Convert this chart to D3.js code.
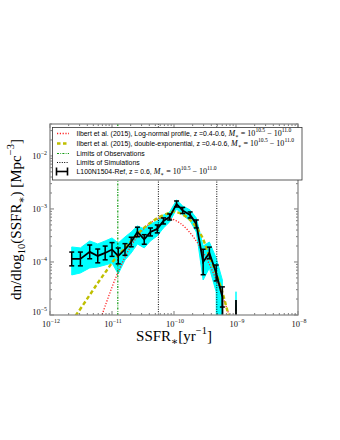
<!DOCTYPE html>
<html><head><meta charset="utf-8">
<script src="https://cdn.jsdelivr.net/npm/d3@7/dist/d3.min.js"></script>
<style>body{margin:0;background:#fff}</style>
</head><body><svg id="c" width="340" height="440"></svg>
<script>
// ---- data ----
const ssfr = [2.24e-12, 3.09e-12, 4.37e-12, 5.89e-12, 7.76e-12, 1.0e-11, 1.26e-11, 1.62e-11, 2.04e-11, 2.57e-11, 3.31e-11, 4.17e-11, 5.37e-11, 6.76e-11, 8.51e-11, 1.10e-10, 1.38e-10, 1.82e-10, 2.29e-10, 2.95e-10, 3.72e-10, 4.79e-10, 6.03e-10, 7.76e-10, 1.0e-9, 1.26e-9];
const phi = [1.14e-4, 1.14e-4, 1.55e-4, 1.30e-4, 1.48e-4, 1.72e-4, 1.30e-4, 1.72e-4, 2.38e-4, 3.68e-4, 2.66e-4, 3.68e-4, 4.20e-4, 5.94e-4, 7.06e-4, 1.24e-3, 9.37e-4, 7.70e-4, 5.21e-4, 1.0e-4, 1.48e-4, 6.20e-5, 2.19e-5, 0, 1.92e-5, 0];
const errDex = [0.13, 0.13, 0.13, 0.13, 0.13, 0.13, 0.15, 0.11, 0.09, 0.09, 0.09, 0.075, 0.075, 0.057, 0.057, 0.057, 0.057, 0.057, 0.075, 0.24, 0.11, 0.15, 0.19, 0, 0, 0];
const bandHi = [1.92e-4, 1.84e-4, 2.49e-4, 2.19e-4, 2.49e-4, 2.84e-4, 2.28e-4, 2.96e-4, 3.68e-4, 4.78e-4, 4.20e-4, 5.21e-4, 5.94e-4, 7.70e-4, 8.77e-4, 1.48e-3, 1.14e-3, 9.57e-4, 6.76e-4, 2.0e-4, 2.38e-4, 1.19e-4, 4.57e-5, 0, 2.75e-5, 0];
const bandLo = [5.69e-5, 6.20e-5, 7.71e-5, 8.05e-5, 8.77e-5, 9.57e-5, 5.94e-5, 1.09e-4, 1.48e-4, 2.19e-4, 1.84e-4, 2.49e-4, 3.10e-4, 4.38e-4, 5.69e-4, 1.0e-3, 7.70e-4, 5.94e-4, 3.68e-4, 4.57e-5, 7.71e-5, 2.72e-5, 0, 0, 0, 0];

const lnSsfr = [5.01e-12, 7.94e-12, 1.26e-11, 2.0e-11, 3.16e-11, 5.01e-11, 7.94e-11, 1.26e-10, 2.0e-10, 3.16e-10, 5.01e-10, 7.94e-10, 1.12e-9];
const lnPhi = [3.2e-6, 1.6e-5, 6.5e-5, 1.95e-4, 4.07e-4, 6.17e-4, 6.76e-4, 5.37e-4, 3.09e-4, 1.32e-4, 4.07e-5, 9.1e-6, 2.4e-6];

const deSsfr = [1.91e-12, 2.63e-12, 4.17e-12, 6.03e-12, 8.32e-12, 1.12e-11, 1.74e-11, 2.63e-11, 4.07e-11, 5.89e-11, 8.13e-11, 9.77e-11, 1.41e-10, 2.04e-10, 2.82e-10, 3.55e-10, 4.57e-10, 5.89e-10, 7.08e-10, 8.32e-10];
const dePhi = [6.3e-6, 1.0e-5, 2.19e-5, 4.17e-5, 7.08e-5, 1.15e-4, 2.0e-4, 3.47e-4, 5.37e-4, 7.08e-4, 8.32e-4, 8.91e-4, 7.76e-4, 5.37e-4, 3.02e-4, 1.48e-4, 7.08e-5, 2.95e-5, 1.35e-5, 6.3e-6];

const obsLimits = [1.24e-11];
const simLimits = [5.6e-11, 4.9e-10];

const xTickVals = [1e-12, 1e-11, 1e-10, 1e-9, 1e-8];
const xTickExp = ["\u221212", "\u221211", "\u221210", "\u22129", "\u22128"];
const yTickVals = [1e-5, 1e-4, 1e-3, 1e-2];
const yTickExp = ["\u22125", "\u22124", "\u22123", "\u22122"];

const legendText = [
  "Ilbert et al. (2015), Log-normal profile, z =0.4-0.6, ",
  "Ilbert et al. (2015), double-exponential, z =0.4-0.6, ",
  "Limits of Observations",
  "Limits of Simulations",
  "L100N1504-Ref, z = 0.6, "
];
const legendMath = [true, true, false, false, true];

// ---- layout ----
const L = 50, R = 298, T = 124, B = 315;
const svg = d3.select("#c");
const x = d3.scaleLog().domain([1e-12, 1e-8]).range([L, R]);
const y = d3.scaleLog().domain([1e-5, 0.04]).range([B, T]);
const FLOOR = 1e-30;
const fl = v => (v > 0 ? v : FLOOR);

svg.append("defs").append("clipPath").attr("id", "clip")
  .append("rect").attr("x", L).attr("y", T).attr("width", R - L).attr("height", B - T);
const plot = svg.append("g").attr("clip-path", "url(#clip)");

const pts = ssfr.map((s, i) => ({ s, p: phi[i], e: errDex[i], hi: bandHi[i], lo: bandLo[i] }));

// band
plot.append("path").datum(pts)
  .attr("d", d3.area().x(d => x(d.s)).y0(d => y(fl(d.lo))).y1(d => y(fl(d.hi))))
  .attr("fill", "#00ffff").attr("stroke", "#00ffff").attr("stroke-width", 1);

// model curves
const lnData = lnSsfr.map((s, i) => ({ s, p: lnPhi[i] }));
const deData = deSsfr.map((s, i) => ({ s, p: dePhi[i] }));
const cl = d3.line().x(d => x(d.s)).y(d => y(d.p)).curve(d3.curveCatmullRom);
plot.append("path").datum(lnData).attr("d", cl).attr("fill", "none")
  .attr("stroke", "#ff2020").attr("stroke-width", 1.3).attr("stroke-dasharray", "1.2,1.6");
plot.append("path").datum(deData).attr("d", cl).attr("fill", "none")
  .attr("stroke", "#bfbf00").attr("stroke-width", 2.4).attr("stroke-dasharray", "4,2.5");

// vertical limits
obsLimits.forEach(v => plot.append("line").attr("x1", x(v)).attr("x2", x(v)).attr("y1", T).attr("y2", B)
  .attr("stroke", "#109a10").attr("stroke-width", 1.2).attr("stroke-dasharray", "2,1.3,0.8,1.3"));
simLimits.forEach(v => plot.append("line").attr("x1", x(v)).attr("x2", x(v)).attr("y1", T).attr("y2", B)
  .attr("stroke", "#000").attr("stroke-width", 1).attr("stroke-dasharray", "1,1.4"));

// simulation line
plot.append("path").datum(pts)
  .attr("d", d3.line().x(d => x(d.s)).y(d => y(fl(d.p))))
  .attr("fill", "none").attr("stroke", "#000").attr("stroke-width", 1.8).attr("stroke-linejoin", "miter");

// error bars
const eb = plot.append("g").attr("stroke", "#000").attr("stroke-width", 1.5);
pts.filter(d => d.p > 0 && d.e > 0).forEach(d => {
  const cx = x(d.s), y1 = y(d.p * Math.pow(10, d.e)), y0 = y(d.p / Math.pow(10, d.e));
  eb.append("line").attr("x1", cx).attr("x2", cx).attr("y1", y1).attr("y2", y0);
  eb.append("line").attr("x1", cx - 2.5).attr("x2", cx + 2.5).attr("y1", y1).attr("y2", y1);
  eb.append("line").attr("x1", cx - 2.5).attr("x2", cx + 2.5).attr("y1", y0).attr("y2", y0);
});

// frame and ticks
const ax = svg.append("g");
const minorX = [], minorY = [];
xTickVals.slice(0, -1).forEach(d => { for (let k = 2; k < 10; k++) minorX.push(d * k); });
yTickVals.forEach(d => { for (let k = 2; k < 10; k++) if (d * k <= 0.04) minorY.push(d * k); });
const tk = ax.append("g").attr("stroke", "#222").attr("stroke-width", 0.6);
xTickVals.forEach(v => {
  tk.append("line").attr("x1", x(v)).attr("x2", x(v)).attr("y1", B).attr("y2", B - 4);
  tk.append("line").attr("x1", x(v)).attr("x2", x(v)).attr("y1", T).attr("y2", T + 4);
});
minorX.forEach(v => {
  tk.append("line").attr("x1", x(v)).attr("x2", x(v)).attr("y1", B).attr("y2", B - 2);
  tk.append("line").attr("x1", x(v)).attr("x2", x(v)).attr("y1", T).attr("y2", T + 2);
});
yTickVals.forEach(v => {
  tk.append("line").attr("x1", L).attr("x2", L + 4).attr("y1", y(v)).attr("y2", y(v));
  tk.append("line").attr("x1", R).attr("x2", R - 4).attr("y1", y(v)).attr("y2", y(v));
});
minorY.forEach(v => {
  tk.append("line").attr("x1", L).attr("x2", L + 2).attr("y1", y(v)).attr("y2", y(v));
  tk.append("line").attr("x1", R).attr("x2", R - 2).attr("y1", y(v)).attr("y2", y(v));
});
ax.append("rect").attr("x", L).attr("y", T).attr("width", R - L).attr("height", B - T)
  .attr("fill", "none").attr("stroke", "#8a8a8a").attr("stroke-width", 1.3);

function rich(t, segs, base) {
  let cur = 0;
  segs.forEach(s => {
    const b = s.b || base;
    const target = s.k === "sup" ? -b * 0.45 : s.k === "sub" ? b * 0.28 : 0;
    const ts = t.append("tspan").attr("dy", target - cur).text(s.t)
      .attr("font-size", s.k ? b * 0.7 : b);
    cur = target;
    if (s.f) ts.attr("font-family", s.f);
    if (s.i) ts.attr("font-style", "italic");
  });
}
const SERIF = "'Liberation Serif','DejaVu Serif',serif";
const SANS = "'Liberation Sans','DejaVu Sans',sans-serif";

xTickVals.forEach((v, i) => {
  const t = svg.append("text").attr("x", x(v) + 1).attr("y", B + 12).attr("text-anchor", "middle")
    .attr("font-family", SERIF).attr("fill", "#111");
  rich(t, [{ t: "10" }, { t: xTickExp[i], k: "sup" }], 8.5);
});
yTickVals.forEach((v, i) => {
  const t = svg.append("text").attr("x", L - 3).attr("y", y(v) + (i === 0 ? 0 : 3)).attr("text-anchor", "end")
    .attr("font-family", SERIF).attr("fill", "#111");
  rich(t, [{ t: "10" }, { t: yTickExp[i], k: "sup" }], 8.5);
});

// axis titles
const xt = svg.append("text").attr("x", (L + R) / 2).attr("y", B + 26).attr("text-anchor", "middle")
  .attr("font-family", SERIF).attr("fill", "#000");
rich(xt, [{ t: "SSFR" }, { t: "\u2217", k: "sub" }, { t: "[yr" }, { t: "\u22121", k: "sup" }, { t: "]" }], 15);
const yt = svg.append("text").attr("transform", `translate(21,${(T + B) / 2}) rotate(-90)`)
  .attr("text-anchor", "middle").attr("font-family", SERIF).attr("fill", "#000");
rich(yt, [{ t: "dn/dlog" }, { t: "10", k: "sub" }, { t: "(SSFR" }, { t: "\u2217", k: "sub" }, { t: ") [Mpc" }, { t: "\u22123", k: "sup" }, { t: "]" }], 15);

// legend
const lg = svg.append("g");
lg.append("rect").attr("x", 52.5).attr("y", 127.5).attr("width", 249.5).attr("height", 52.5)
  .attr("fill", "#fff").attr("stroke", "#333").attr("stroke-width", 0.8);
const rowY = [133.5, 143.5, 153.5, 162.5, 171.5];
const hx0 = 57, hx1 = 69;
lg.append("line").attr("x1", hx0).attr("x2", hx1).attr("y1", rowY[0]).attr("y2", rowY[0])
  .attr("stroke", "#ff2020").attr("stroke-width", 1.3).attr("stroke-dasharray", "1.2,1.6");
lg.append("line").attr("x1", hx0).attr("x2", hx1).attr("y1", rowY[1]).attr("y2", rowY[1])
  .attr("stroke", "#bfbf00").attr("stroke-width", 2.4).attr("stroke-dasharray", "3.5,2.5");
lg.append("line").attr("x1", hx0).attr("x2", hx1).attr("y1", rowY[2]).attr("y2", rowY[2])
  .attr("stroke", "#109a10").attr("stroke-width", 1.2).attr("stroke-dasharray", "2,1.3,0.8,1.3");
lg.append("line").attr("x1", hx0).attr("x2", hx1).attr("y1", rowY[3]).attr("y2", rowY[3])
  .attr("stroke", "#000").attr("stroke-width", 1).attr("stroke-dasharray", "1,1.4");
const hb = lg.append("g").attr("stroke", "#000").attr("stroke-width", 1.6);
hb.append("line").attr("x1", 56).attr("x2", 68).attr("y1", rowY[4]).attr("y2", rowY[4]);
hb.append("line").attr("x1", 56.5).attr("x2", 56.5).attr("y1", rowY[4] - 4).attr("y2", rowY[4] + 4);
hb.append("line").attr("x1", 67.5).attr("x2", 67.5).attr("y1", rowY[4] - 4).attr("y2", rowY[4] + 4);

legendText.forEach((s, i) => {
  const t = lg.append("text").attr("x", 76.5).attr("y", rowY[i] + 2.4).attr("fill", "#000")
    .attr("font-family", SANS);
  const segs = [{ t: s }];
  if (legendMath[i]) {
    segs.push({ t: "M", f: SERIF, i: true, b: 8 }, { t: "\u2217", k: "sub", f: SERIF, b: 8 },
      { t: " = 10", f: SERIF, b: 8 }, { t: "10.5", k: "sup", f: SERIF, b: 8 },
      { t: " \u2212 10", f: SERIF, b: 8 }, { t: "11.0", k: "sup", f: SERIF, b: 8 });
  }
  rich(t, segs, 6.9);
});
</script></body></html>
